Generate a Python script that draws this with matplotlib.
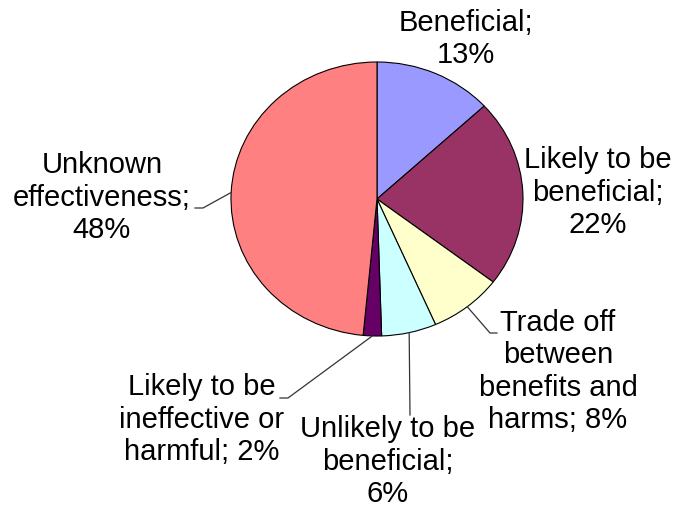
import matplotlib
matplotlib.use("Agg")
import matplotlib.pyplot as plt
import numpy as np

# categories and shares (percent)
names = ["Beneficial", "Likely to be\nbeneficial", "Trade off\nbetween\nbenefits and\nharms",
         "Unlikely to be\nbeneficial", "Likely to be\nineffective or\nharmful",
         "Unknown\neffectiveness"]
shares = [13, 22, 8, 6, 2, 48]
colors = ["#9999FF", "#993366", "#FFFFCC", "#CCFFFF", "#660066", "#FF8080"]
seps = ["\n", "\n", " ", "\n", " ", "\n"]

# pie centre and radii in pixels
CX, CY, RX, RY = 377, 199, 146, 137
W, H = 674, 509

# label anchor (centre x, last-line baseline y) and leader elbows, in pixels
label_pos = [(466, 63), (598, 233), (558, 428), (388, 502), (202, 460), (102, 238)]
elbows = [None, None, [(490, 333), (497, 333)], [(410, 415)],
          [(288, 398), (280, 398)], [(203, 208), (195, 208)]]


def px(x, y):
    # pixel position -> data coords of the unit pie
    return (x - CX) / RX, (CY - y) / RY


plt.rcParams['font.family'] = ['Liberation Sans', 'DejaVu Sans']
fig = plt.figure(figsize=(W / 100, H / 100), dpi=100)
ax = fig.add_axes([0, 0, 1, 1])

wedges, _ = ax.pie(shares, colors=colors, startangle=90, counterclock=False,
                   wedgeprops=dict(edgecolor="black", linewidth=0.8))
ax.set_aspect('auto')
ax.set_xlim(-CX / RX, (W - CX) / RX)
ax.set_ylim(-(H - CY) / RY, CY / RY)
ax.axis('off')

for w, name, v, sep, (lx, ly), elb in zip(wedges, names, shares, seps, label_pos, elbows):
    ax.text(*px(lx, ly), f"{name};{sep}{v}%", ha='center', va='baseline',
            multialignment='center', fontsize=21, color='black')
    if elb is None:
        continue
    # leader starts on the rim at the wedge's mid angle
    ang = np.deg2rad((w.theta1 + w.theta2) / 2)
    xs = [np.cos(ang)] + [px(*p)[0] for p in elb]
    ys = [np.sin(ang)] + [px(*p)[1] for p in elb]
    ax.plot(xs, ys, color='#333333', lw=0.9)

fig.savefig("out.png", dpi=100)
